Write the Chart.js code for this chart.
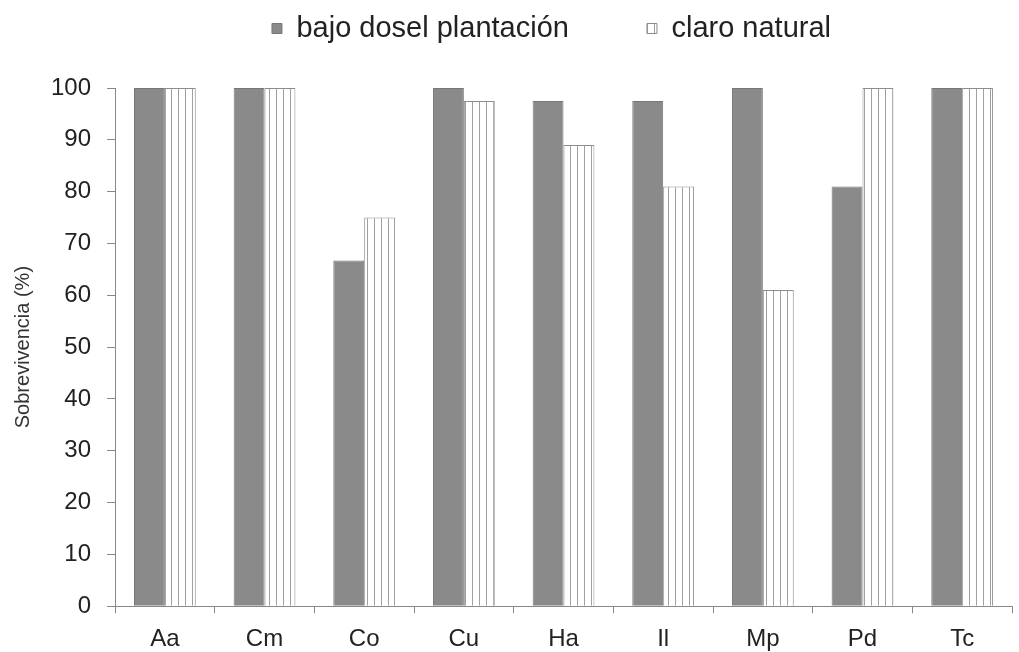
<!DOCTYPE html>
<html><head><meta charset="utf-8">
<script src="https://cdn.jsdelivr.net/npm/chart.js@4"></script>
<style>html,body{margin:0;padding:0;background:#fff}#wrap{width:1019px;height:652px}</style>
</head><body><div id="wrap"><canvas id="c" width="1019" height="652"></canvas></div>
<script>
const categories = ["Aa","Cm","Co","Cu","Ha","Il","Mp","Pd","Tc"];
const bajoDosel = [100,100,66.7,100,97.5,97.5,100,81,100];
const claroNatural = [100,100,75,97.5,89,81,61,100,100];
const yTicks = [0,10,20,30,40,50,60,70,80,90,100];

function stripePattern(){
  const p = document.createElement('canvas');
  p.width = 7; p.height = 4;
  const g = p.getContext('2d');
  g.fillStyle = '#fff'; g.fillRect(0,0,7,4);
  g.fillStyle = '#a0a0a0'; g.fillRect(3,0,1,4);
  return g.createPattern(p,'repeat');
}

const legendAdjust = {
  id:'legendAdjust',
  beforeLayout(chart){
    const lg = chart.legend;
    if(!lg || lg._adj) return;
    lg._adj = true;
    const f = lg.fit, d = lg.draw;
    lg.fit = function(){ f.call(this); this.height += 35; };
    lg.draw = function(){ const c = this.ctx; c.save(); c.translate(42,0); d.call(this); c.restore(); };
  }
};

const FONT = 'Liberation Sans, Arial, Helvetica, sans-serif';
const ctx = document.getElementById('c').getContext('2d');
new Chart(ctx,{
  type:'bar',
  data:{labels:categories,datasets:[
    {label:'bajo dosel plantación',data:bajoDosel,backgroundColor:'#8a8a8a',borderColor:'#777',borderWidth:1,categoryPercentage:0.62,barPercentage:1},
    {label:'claro natural',data:claroNatural,backgroundColor:stripePattern(),borderColor:'#8c8c8c',borderWidth:1,categoryPercentage:0.62,barPercentage:1}
  ]},
  plugins:[legendAdjust],
  options:{
    responsive:false,animation:false,
    layout:{padding:{left:7,right:7,top:-64,bottom:-14}},
    plugins:{
      legend:{position:'top',labels:{font:{family:FONT,size:29},color:'#222',boxWidth:10,boxHeight:10,padding:78},
        onClick:null},
      tooltip:{enabled:false}
    },
    scales:{
      x:{grid:{display:true,drawOnChartArea:false,offset:true,tickLength:7,color:'#888'},border:{color:'#888'},
        ticks:{font:{family:FONT,size:24},color:'#222',padding:12}},
      y:{min:0,max:100,afterBuildTicks:a=>{a.ticks=yTicks.map(v=>({value:v}));},
        grid:{display:true,drawOnChartArea:false,tickLength:8,color:'#888'},border:{color:'#888'},
        ticks:{font:{family:FONT,size:24},color:'#222',padding:16},
        title:{display:true,text:'Sobrevivencia (%)',font:{family:FONT,size:20},color:'#333',padding:{top:4,bottom:0}}}
    }
  }
});
</script></body></html>
